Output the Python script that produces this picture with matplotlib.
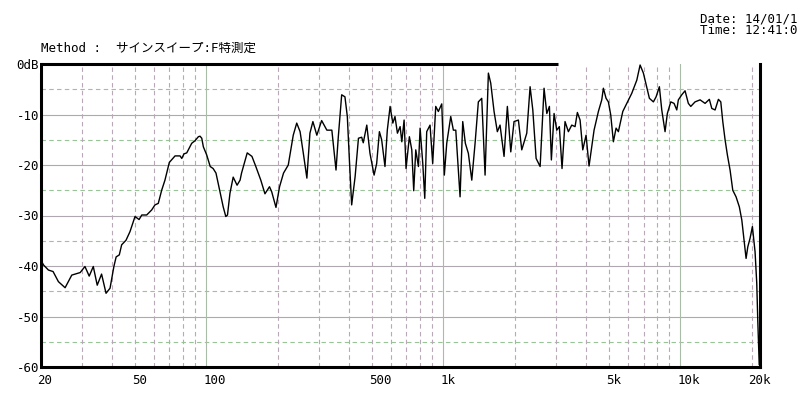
# -*- coding: utf-8 -*-
import numpy as np
import matplotlib
matplotlib.use('Agg')
import matplotlib.pyplot as plt
import matplotlib.transforms as mtransforms

# 周波数特性 (Hz, dB) - 画像から読み取り
freq = [20, 20.6, 21.6, 22.6, 23.8, 25.4, 27.1, 29.4, 30.8, 32.1, 33.4, 34.7, 36.2, 37.8,
        39.3, 40.8, 41.7, 43.0, 44.0, 45.9, 47.7, 50.1, 52.1, 53.5, 56.1, 58.9, 60.8, 62.8,
        64.9, 67.0, 69.9, 73.9, 77.6, 78.9, 80.6, 82.8, 86.9, 89.7, 92.7, 94.2, 95.8, 97.3,
        100.5, 104, 107, 110, 114, 118, 121, 123, 126, 130, 135, 139,
        141, 149, 156, 162, 170, 177, 185, 189, 197, 204, 212, 222, 233, 241, 249, 257, 266,
        274, 282, 293, 307, 323, 339, 353, 361, 373, 385, 394, 402, 411, 425, 439, 453, 460,
        476, 491, 511, 524, 538, 550, 568, 581, 597, 613, 626, 641, 658, 669, 684, 697, 720,
        737, 751, 766, 786, 799, 820, 836, 852, 880,
        903, 930, 954, 986, 1011, 1035, 1076, 1104, 1130, 1178, 1209, 1240, 1277, 1320, 1363,
        1407, 1454, 1502, 1551, 1587, 1639, 1692, 1737, 1806, 1865, 1928, 1990, 2076, 2145,
        2252, 2326, 2388, 2466, 2564, 2664, 2736, 2806, 2860, 2936, 3014, 3090, 3172, 3266,
        3374, 3486, 3600, 3682, 3780, 3880, 4006, 4124, 4234, 4330, 4516, 4666, 4740, 4866,
        4976, 5092, 5224, 5362, 5484, 5724, 5950, 6246, 6558, 6772, 6992, 7412,
        7706, 7910, 8166, 8358, 8630, 8824, 9122, 9418, 9670, 9820, 10150, 10480, 10820,
        11080, 11550, 12130, 12730, 13270, 13590, 14030, 14490, 14830, 15120, 15460, 15810,
        16230, 16660, 17200, 17760, 18190, 18650, 18960, 19280, 19710, 20160, 20690, 21030,
        21240, 21510, 21540]
level = [-38.7, -39.8, -40.8, -41.1, -43.1, -44.3, -41.8, -41.3, -40.1, -42.0, -40.1, -43.8,
         -41.6, -45.4, -44.4, -40.1, -38.2, -37.8, -35.8, -34.9, -33.2, -30.2, -30.8, -29.9,
         -29.9, -28.9, -27.9, -27.6, -25.0, -23.0, -19.5, -18.2, -18.2, -18.7, -17.8, -17.6,
         -15.7, -15.2, -14.4, -14.3, -14.7, -16.4, -18.0, -20.3, -20.7, -21.6, -25.0, -28.3,
         -30.2, -29.9, -25.6, -22.4, -24.0, -23.0,
         -21.6, -17.6, -18.3, -20.3, -23.0, -25.7, -24.3, -25.3, -28.4, -24.3, -21.6, -20.0,
         -14.1, -11.7, -13.4, -17.7, -22.6, -13.7, -11.4, -14.1, -11.2, -13.1, -13.1, -21.0,
         -14.4, -6.1, -6.5, -10.4, -19.0, -27.9, -22.3, -14.7, -14.5, -15.6, -12.1, -17.7,
         -22.0, -19.7, -13.4, -15.0, -20.3, -13.1, -8.4, -11.7, -10.4, -13.7, -12.4, -15.4,
         -11.1, -20.7, -14.4, -17.0, -25.1, -17.0, -20.3, -12.7, -19.7, -26.6, -13.4, -12.1,
         -19.7, -8.4, -9.4, -7.9, -22.0, -15.7, -10.4, -13.1, -13.1, -26.3, -11.4, -15.7,
         -17.7, -23.0, -15.7, -7.5, -6.8, -22.0, -1.8, -3.8, -9.4, -13.4, -12.1, -18.3, -8.4,
         -17.4, -11.4, -11.1, -17.0, -13.7, -4.5, -9.1, -18.7, -20.3, -4.8, -9.8, -8.4, -19.0,
         -9.8, -13.1, -12.4, -20.7, -11.4, -13.4, -12.1, -12.4, -9.6, -11.1, -17.0, -14.1,
         -20.2, -16.4, -13.1, -9.4, -7.1, -4.8, -6.8, -7.5, -10.1, -15.4, -12.7, -13.4, -9.4,
         -7.8, -5.8, -3.2, -0.2, -1.8, -6.8,
         -7.5, -6.5, -4.5, -9.1, -13.4, -9.8, -7.5, -7.8, -9.1, -7.1, -6.1, -5.3, -7.8, -8.4,
         -7.5, -7.1, -7.8, -7.0, -8.8, -9.1, -7.0, -7.5, -11.4, -15.0, -18.0, -21.0, -25.0,
         -26.3, -28.3, -30.9, -35.5, -38.5, -36.2, -34.5, -32.2, -37.2, -43.4, -50.7, -58.6,
         -59.5]

xticks = [20, 50, 100, 500, 1000, 5000, 10000, 20000]
xticklabels = ['20', '50', '100', '500', '1k', '5k', '10k', '20k']
yticks = [0, -10, -20, -30, -40, -50, -60]
yticklabels = ['0dB', '-10', '-20', '-30', '-40', '-50', '-60']
decades = [100, 1000, 10000]
minor_freq = [30, 40, 50, 60, 70, 80, 90, 200, 300, 400, 500, 600, 700, 800, 900,
              2000, 3000, 4000, 5000, 6000, 7000, 8000, 9000, 20000]

plt.rcParams['font.family'] = ['DejaVu Sans Mono', 'Noto Sans CJK JP']

fig = plt.figure(figsize=(8, 4), dpi=100)
ax = fig.add_axes([40.5 / 800, 1 - 367 / 400, 719 / 800, 303 / 400])
ax.set_xscale('log')
ax.set_xlim(20, 21600)
ax.set_ylim(-60, 0)

# グリッド
for y in range(-10, -60, -10):
    ax.axhline(y, color='#b0a8b0', lw=0.8, zorder=1)
for y in range(-5, -60, -10):
    ax.axhline(y, color='#98c498', lw=0.8, ls=(0, (4, 3)), zorder=1)
for f in minor_freq:
    ax.axvline(f, color='#b8a8b8', lw=0.8, ls=(0, (4, 3)), zorder=1)
for f in decades:
    ax.axvline(f, color='#a8bca8', lw=0.8, zorder=1)

ax.plot(freq, level, color='black', lw=1.0, zorder=3)

# 枠線
ax.spines['top'].set_visible(False)
for s in ['left', 'bottom', 'right']:
    ax.spines[s].set_linewidth(2.2)
    ax.spines[s].set_zorder(1.5)
ax.plot([0, 0.72], [1, 1], transform=ax.transAxes, color='black', lw=2.2,
        clip_on=False, solid_capstyle='butt', zorder=4)

ax.set_xticks(xticks)
ax.set_xticklabels(xticklabels, ha='left')
ax.xaxis.set_minor_locator(matplotlib.ticker.NullLocator())
ax.set_yticks(yticks)
ax.set_yticklabels(yticklabels)
ax.tick_params(length=0, labelsize=9)
ax.tick_params(axis='x', pad=5)
ax.tick_params(axis='y', pad=1)
shift = mtransforms.ScaledTranslation(-3 / 100, 0, fig.dpi_scale_trans)
for lbl in ax.get_xticklabels():
    lbl.set_transform(lbl.get_transform() + shift)
for lbl in ax.get_yticklabels():
    lbl.set_bbox(dict(facecolor='white', edgecolor='none', pad=0.5))

fig.text(41 / 800, 1 - 48 / 400, 'Method :  サインスイープ:F特測定', fontsize=9,
         va='center', ha='left')
fig.text(700 / 800, 1 - 19 / 400, 'Date: 14/01/1', fontsize=9, va='center', ha='left')
fig.text(700 / 800, 1 - 31 / 400, 'Time: 12:41:0', fontsize=9, va='center', ha='left')

plt.savefig('out.png', dpi=100)
